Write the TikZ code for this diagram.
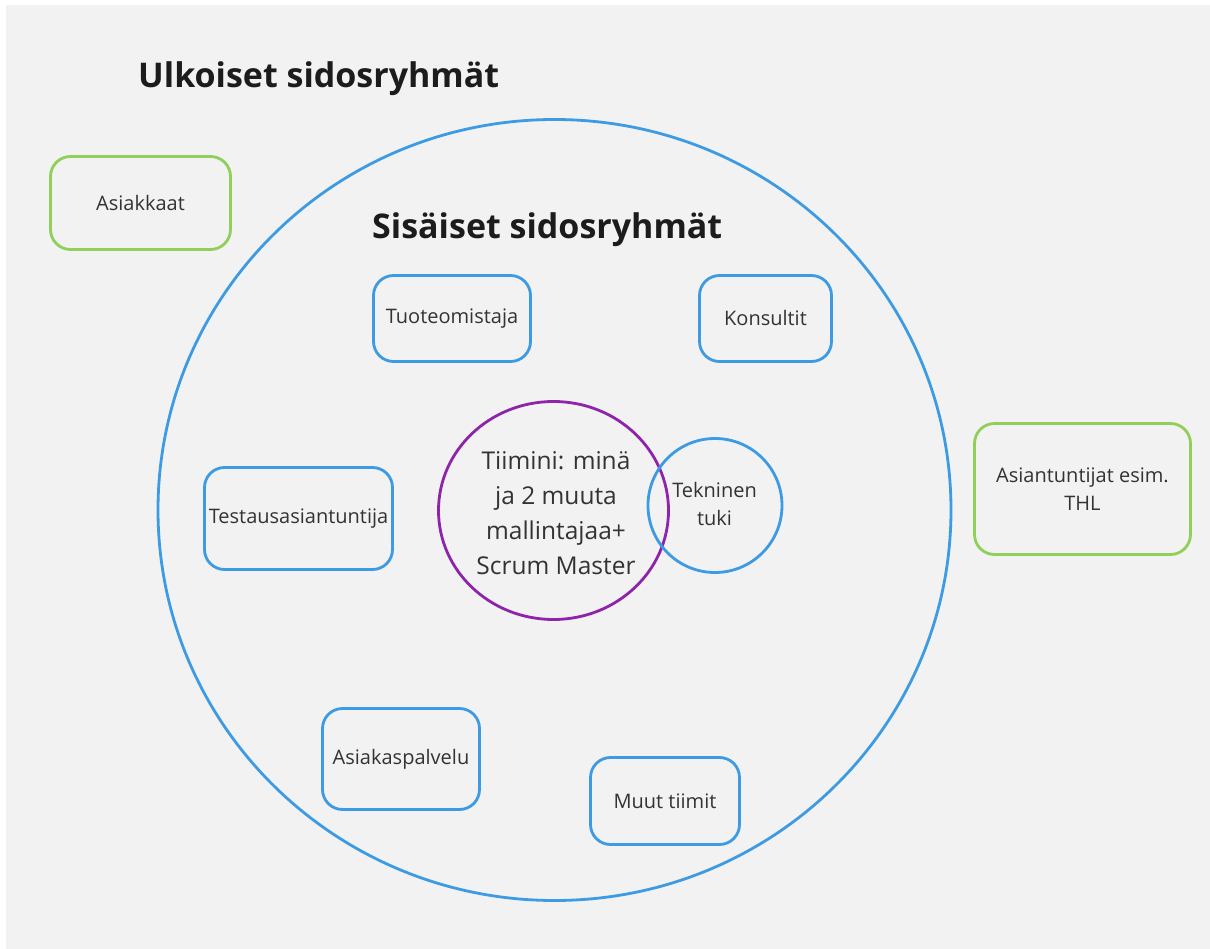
\documentclass[tikz,border=0pt]{standalone}
\usepackage{fontspec}
\setmainfont{Open Sans}
\usetikzlibrary{shapes.geometric}
\definecolor{bg}{HTML}{F2F2F2}
\definecolor{bluec}{HTML}{3D9BE3}
\definecolor{greenc}{HTML}{8FCF5A}
\definecolor{purplec}{HTML}{8E24AA}
\definecolor{txt}{HTML}{333333}
\definecolor{ttl}{HTML}{1C1C1C}
\tikzset{
  box/.style={draw, line width=2.8pt, rounded corners=20pt, align=center,
    text=txt, font=\fontsize{20}{28}\selectfont, inner sep=0pt},
  bluebox/.style={box, draw=bluec},
  greenbox/.style={box, draw=greenc},
  title/.style={font=\fontsize{34}{40}\selectfont\bfseries, text=ttl, inner sep=0pt, anchor=base west},
}
\begin{document}
\begin{tikzpicture}[x=1pt,y=-1pt]
\useasboundingbox (0,0) rectangle (1210,949);
\fill[white] (0,0) rectangle (1210,949);
\fill[bg] (6,5) rectangle (1210,949);

\node[title] (ulk) at (138,88) {Ulkoiset sidosryhmät};
\node[draw=bluec, line width=2.8pt, ellipse, minimum width=793pt, minimum height=781pt, inner sep=0pt] (outer) at (554.5,510) {};
\node[title] (sis) at (372,239) {Sisäiset sidosryhmät};

\node[greenbox, minimum width=180pt, minimum height=93pt] (asiakkaat) at (140.5,203) {Asiakkaat};
\node[greenbox, minimum width=216pt, minimum height=131pt] (asiant) at (1082.5,489) {Asiantuntijat esim.\\THL};

\node[bluebox, minimum width=157pt, minimum height=86pt] (tuote) at (452,318.5) {Tuoteomistaja};
\node[bluebox, minimum width=132pt, minimum height=86pt] (kons) at (765.5,318.5) {Konsultit};
\node[bluebox, minimum width=188pt, minimum height=102pt] (testaus) at (298.5,518.5) {Testausasiantuntija};
\node[bluebox, minimum width=157pt, minimum height=101pt] (asiakaspalvelu) at (401,759) {Asiakaspalvelu};
\node[bluebox, minimum width=149pt, minimum height=87pt] (muut) at (665,801) {Muut tiimit};

\node[draw=purplec, line width=2.8pt, ellipse, minimum width=230pt, minimum height=218pt, inner sep=0pt] (team) at (553.5,510.5) {};
\node[align=center, text=txt, font=\fontsize{24.5}{35}\selectfont, inner sep=0pt] (teamtxt) at (556,513) {Tiimini: minä\\ja 2 muuta\\mallintajaa+\\Scrum Master};

\node[draw=bluec, line width=2.8pt, circle, minimum size=134pt, inner sep=0pt] (tek) at (715,505.5) {};
\node[align=center, text=txt, font=\fontsize{20}{28}\selectfont, inner sep=0pt] (tektxt) at (714.5,504) {Tekninen\\tuki};
\end{tikzpicture}
\end{document}
